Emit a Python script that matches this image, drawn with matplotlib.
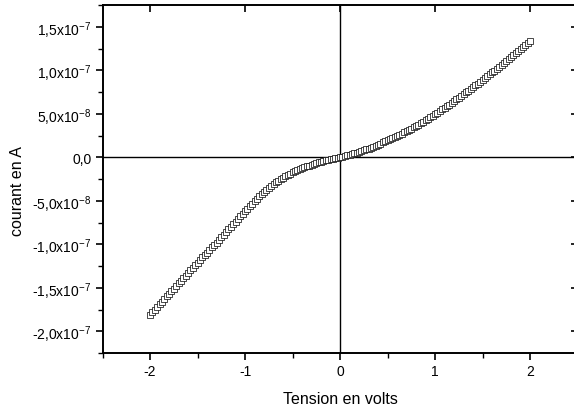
import numpy as np
import matplotlib
matplotlib.use("Agg")
import matplotlib.pyplot as plt
from matplotlib.ticker import MultipleLocator, FuncFormatter

tension = [
    -2.000, -1.975, -1.950, -1.925, -1.900, -1.875, -1.850, -1.825, -1.800, -1.775,
    -1.750, -1.725, -1.700, -1.675, -1.650, -1.625, -1.600, -1.575, -1.550, -1.525,
    -1.500, -1.475, -1.450, -1.425, -1.400, -1.375, -1.350, -1.325, -1.300, -1.275,
    -1.250, -1.225, -1.200, -1.175, -1.150, -1.125, -1.100, -1.075, -1.050, -1.025,
    -1.000, -0.975, -0.950, -0.925, -0.900, -0.875, -0.850, -0.825, -0.800, -0.775,
    -0.750, -0.725, -0.700, -0.675, -0.650, -0.625, -0.600, -0.575, -0.550, -0.525,
    -0.500, -0.475, -0.450, -0.425, -0.400, -0.375, -0.350, -0.325, -0.300, -0.275,
    -0.250, -0.225, -0.200, -0.175, -0.150, -0.125, -0.100, -0.075, -0.050, -0.025,
    0.000, 0.025, 0.050, 0.075, 0.100, 0.125, 0.150, 0.175, 0.200, 0.225,
    0.250, 0.275, 0.300, 0.325, 0.350, 0.375, 0.400, 0.425, 0.450, 0.475,
    0.500, 0.525, 0.550, 0.575, 0.600, 0.625, 0.650, 0.675, 0.700, 0.725,
    0.750, 0.775, 0.800, 0.825, 0.850, 0.875, 0.900, 0.925, 0.950, 0.975,
    1.000, 1.025, 1.050, 1.075, 1.100, 1.125, 1.150, 1.175, 1.200, 1.225,
    1.250, 1.275, 1.300, 1.325, 1.350, 1.375, 1.400, 1.425, 1.450, 1.475,
    1.500, 1.525, 1.550, 1.575, 1.600, 1.625, 1.650, 1.675, 1.700, 1.725,
    1.750, 1.775, 1.800, 1.825, 1.850, 1.875, 1.900, 1.925, 1.950, 1.975,
    2.000]
courant_e8 = [
    -18.1, -17.8, -17.5, -17.2, -16.9, -16.6, -16.3, -16.0, -15.7, -15.4,
    -15.1, -14.8, -14.5, -14.2, -13.9, -13.6, -13.3, -13.0, -12.7, -12.4,
    -12.1, -11.8, -11.5, -11.22, -10.95, -10.65, -10.35, -10.08, -9.8, -9.5,
    -9.2, -8.9, -8.6, -8.3, -8.0, -7.7, -7.4, -7.1, -6.8, -6.5,
    -6.2, -5.9, -5.6, -5.32, -5.05, -4.77, -4.5, -4.25, -4.0, -3.77,
    -3.55, -3.32, -3.1, -2.9, -2.7, -2.52, -2.35, -2.2, -2.05, -1.9,
    -1.75, -1.62, -1.5, -1.37, -1.25, -1.15, -1.05, -0.95, -0.85, -0.76,
    -0.67, -0.58, -0.5, -0.42, -0.35, -0.28, -0.22, -0.16, -0.1, -0.05,
    0.0, 0.07, 0.15, 0.22, 0.3, 0.37, 0.45, 0.52, 0.6, 0.7,
    0.8, 0.9, 1.0, 1.11, 1.22, 1.33, 1.45, 1.57, 1.7, 1.82,
    1.95, 2.07, 2.2, 2.32, 2.45, 2.58, 2.72, 2.86, 3.0, 3.15,
    3.3, 3.45, 3.6, 3.76, 3.92, 4.08, 4.25, 4.42, 4.6, 4.77,
    4.95, 5.12, 5.3, 5.49, 5.68, 5.86, 6.05, 6.25, 6.45, 6.65,
    6.85, 7.05, 7.25, 7.45, 7.65, 7.85, 8.05, 8.25, 8.45, 8.65,
    8.85, 9.07, 9.3, 9.52, 9.75, 9.97, 10.2, 10.42, 10.65, 10.87,
    11.1, 11.32, 11.55, 11.77, 12.0, 12.22, 12.45, 12.67, 12.9, 13.12,
    13.35]
courant = np.array(courant_e8) * 1e-8

plt.rcParams['font.family'] = ['Liberation Sans', 'DejaVu Sans']
plt.rcParams['mathtext.fontset'] = 'custom'
plt.rcParams['mathtext.rm'] = 'Liberation Sans'
plt.rcParams['mathtext.it'] = 'Liberation Sans'
plt.rcParams['mathtext.default'] = 'regular'

W, H = 574, 410
fig = plt.figure(figsize=(W / 100, H / 100), dpi=100)
# axes box: left 102.5px, right 577.5px (just past the edge), top 6px, bottom 354px
ax = fig.add_axes([102.5 / W, 1 - 354 / H, 475 / W, 348 / H])

ax.plot(tension, courant, linestyle='none', marker='s', markersize=5,
        markerfacecolor='white', markeredgecolor='black', markeredgewidth=0.5,
        clip_on=False, zorder=3)

# lines through the origin
ax.axhline(0, color='black', lw=1.0, zorder=2)
ax.axvline(0, color='black', lw=1.0, zorder=2)

ax.set_xlim(-2.5, 2.5)
ax.set_ylim(-2.25e-7, 1.75e-7)

ax.xaxis.set_major_locator(MultipleLocator(1))
ax.xaxis.set_minor_locator(MultipleLocator(0.5))
ax.yaxis.set_major_locator(MultipleLocator(5e-8))
ax.yaxis.set_minor_locator(MultipleLocator(2.5e-8))


def yfmt(v, pos):
    if abs(v) < 1e-12:
        return "0,0"
    exp = int(np.floor(np.log10(abs(v))))
    mant = v / 10 ** exp
    s = f"{mant:.1f}".replace(".", ",")
    return s + "x10$^{" + str(exp) + "}$"


ax.yaxis.set_major_formatter(FuncFormatter(yfmt))
ax.xaxis.set_major_formatter(FuncFormatter(lambda v, p: f"{v:.0f}".replace("-0", "0")))

for s in ax.spines.values():
    s.set_linewidth(1.4)

ax.tick_params(axis='both', which='major', direction='out', length=5, width=1.2,
               labelsize=10, pad=3)
ax.tick_params(axis='both', which='minor', direction='out', length=3.5, width=1.0)
ax.tick_params(top=True, right=True, which='major')
ax.tick_params(top=False, right=False, which='minor')

# inward ticks on top and right (Origin style)
for t in ax.xaxis.get_major_ticks():
    t.tick2line.set_marker(3)  # TICKDOWN
for t in ax.yaxis.get_major_ticks():
    t.tick2line.set_marker(0)  # TICKLEFT

fig.text(340 / W, 1 - 404 / H, "Tension en volts", ha='center', va='baseline',
         fontsize=11.5)
fig.text(18 / W, 1 - 191 / H, "courant en A", ha='center', va='center',
         rotation=90, fontsize=11.5)

fig.savefig("out.png", dpi=100)
